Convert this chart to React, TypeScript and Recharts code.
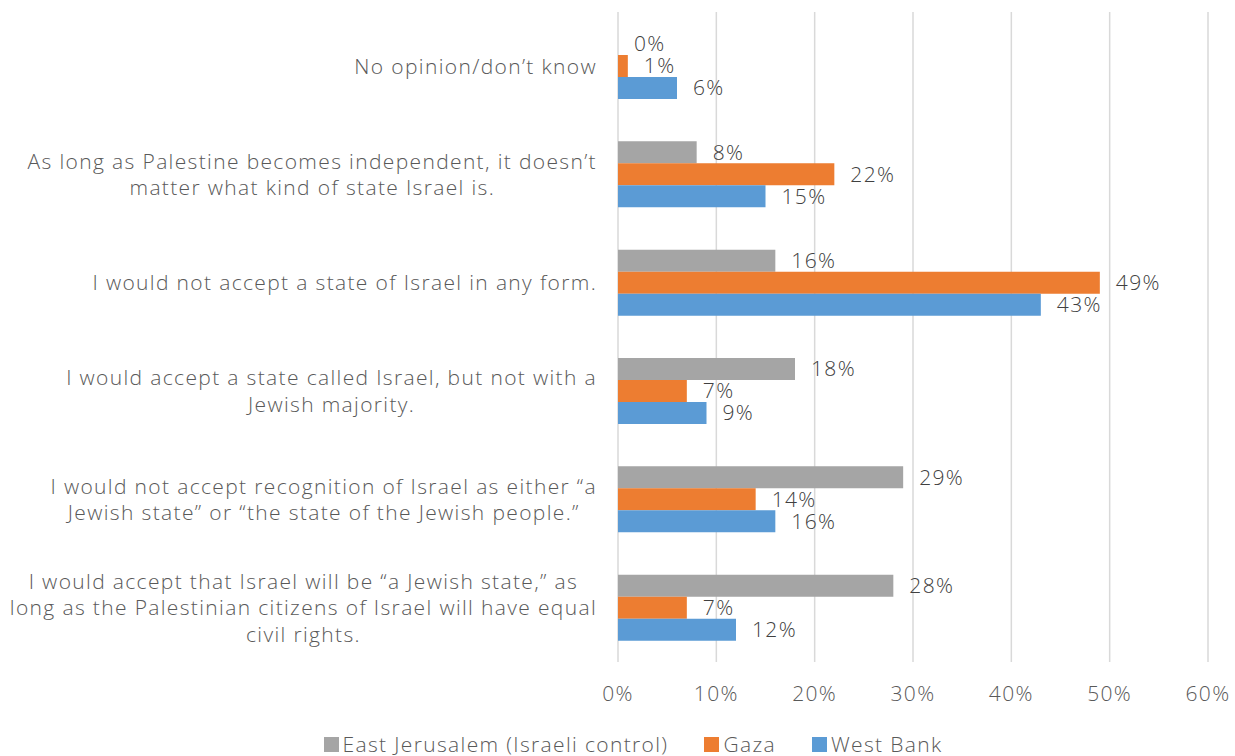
import React from 'react';
import { BarChart, Bar, XAxis, YAxis, CartesianGrid, Legend, LabelList } from 'recharts';

const categories = [
  'No opinion/don’t know',
  'As long as Palestine becomes independent, it doesn’t\nmatter what kind of state Israel is.',
  'I would not accept a state of Israel in any form.',
  'I would accept a state called Israel, but not with a\nJewish majority.',
  'I would not accept recognition of Israel as either “a\nJewish state” or “the state of the Jewish people.”',
  'I would accept that Israel will be “a Jewish state,” as\nlong as the Palestinian citizens of Israel will have equal\ncivil rights.',
];
const eastJerusalem = [0, 8, 16, 18, 29, 28];
const gaza = [1, 22, 49, 7, 14, 7];
const westBank = [6, 15, 43, 9, 16, 12];
const xTicks = [0, 10, 20, 30, 40, 50, 60];

const series = [
  { key: 'ej', name: 'East Jerusalem (Israeli control)', color: '#a5a5a5' },
  { key: 'gaza', name: 'Gaza', color: '#ed7d31' },
  { key: 'wb', name: 'West Bank', color: '#5b9bd5' },
];

const data = categories.map((label, i) => ({
  label,
  ej: eastJerusalem[i],
  gaza: gaza[i],
  wb: westBank[i],
}));

const FONT = '"Open Sans", sans-serif';
const FS = 21;
const WEIGHT = 300;
const LS = 1.35;
const LINE_H = 26.5;

let ctx: CanvasRenderingContext2D | null = null;
const measure = (s: string) => {
  if (!ctx) ctx = document.createElement('canvas').getContext('2d');
  if (!ctx) return s.length * 11;
  ctx.font = `${WEIGHT} ${FS}px "Open Sans"`;
  (ctx as any).letterSpacing = `${LS}px`;
  return ctx.measureText(s).width;
};

const CategoryTick = (props: any) => {
  const { x, y, payload } = props;
  const lines: string[] = String(payload.value).split('\n');
  const maxW = Math.max(...lines.map(measure));
  const cx = x - maxW / 2;
  const top = y - ((lines.length - 1) * LINE_H) / 2;
  return (
    <g>
      {lines.map((ln, i) => (
        <text
          key={i}
          x={cx}
          y={top + i * LINE_H}
          dy="0.35em"
          textAnchor="middle"
          fill="#595959"
          fontSize={FS}
          fontWeight={WEIGHT}
          fontFamily={FONT}
          letterSpacing={LS}
        >
          {ln}
        </text>
      ))}
    </g>
  );
};

const ValueLabel = (props: any) => {
  const { x, y, width, height, value } = props;
  return (
    <text
      x={x + width + 16}
      y={y + height / 2}
      dy="0.35em"
      fill="#404040"
      fontSize={FS}
      fontWeight={WEIGHT}
      fontFamily={FONT}
      letterSpacing={LS}
    >
      {`${value}%`}
    </text>
  );
};

const LegendContent = () => (
  <div
    style={{
      display: 'flex',
      justifyContent: 'center',
      alignItems: 'center',
      height: 30,
      paddingLeft: 58,
      boxSizing: 'border-box',
      lineHeight: '22px',
      transform: 'translateY(3px)',
      fontFamily: FONT,
      fontSize: FS,
      fontWeight: WEIGHT,
      letterSpacing: LS,
      color: '#595959',
    }}
  >
    {series.map((s, i) => (
      <div key={s.key} style={{ display: 'flex', alignItems: 'center', marginRight: i < series.length - 1 ? 36 : 0 }}>
        <span style={{ width: 15, height: 15, background: s.color, marginRight: 4, display: 'inline-block' }} />
        <span>{s.name}</span>
      </div>
    ))}
  </div>
);

export default function App() {
  return (
    <div style={{ position: 'absolute', left: 0, top: 0, background: '#fff' }}>
      <BarChart
        width={1235}
        height={756}
        data={data}
        layout="vertical"
        margin={{ top: 12, right: 27, left: 0, bottom: 0 }}
        barSize={22}
        barGap={0}
      >
        <CartesianGrid horizontal={false} stroke="#d9d9d9" strokeWidth={1.5} />
        <XAxis
          type="number"
          domain={[0, 60]}
          ticks={xTicks}
          tickFormatter={(v) => `${v}%`}
          axisLine={false}
          tickLine={false}
          tickMargin={18}
          height={64}
          tick={{ fill: '#595959', fontSize: FS, fontWeight: WEIGHT, fontFamily: FONT, letterSpacing: LS }}
        />
        <YAxis
          type="category"
          dataKey="label"
          width={618}
          axisLine={false}
          tickLine={false}
          tickSize={0}
          tickMargin={21}
          tick={<CategoryTick />}
          interval={0}
        />
        <Legend verticalAlign="bottom" content={<LegendContent />} />
        {series.map((s) => (
          <Bar
            key={s.key}
            dataKey={s.key}
            name={s.name}
            fill={s.color}
            minPointSize={(v: number) => (v === 0 ? 0.01 : 0)}
            isAnimationActive={false}
          >
            <LabelList dataKey={s.key} content={<ValueLabel />} />
          </Bar>
        ))}
      </BarChart>
    </div>
  );
}
